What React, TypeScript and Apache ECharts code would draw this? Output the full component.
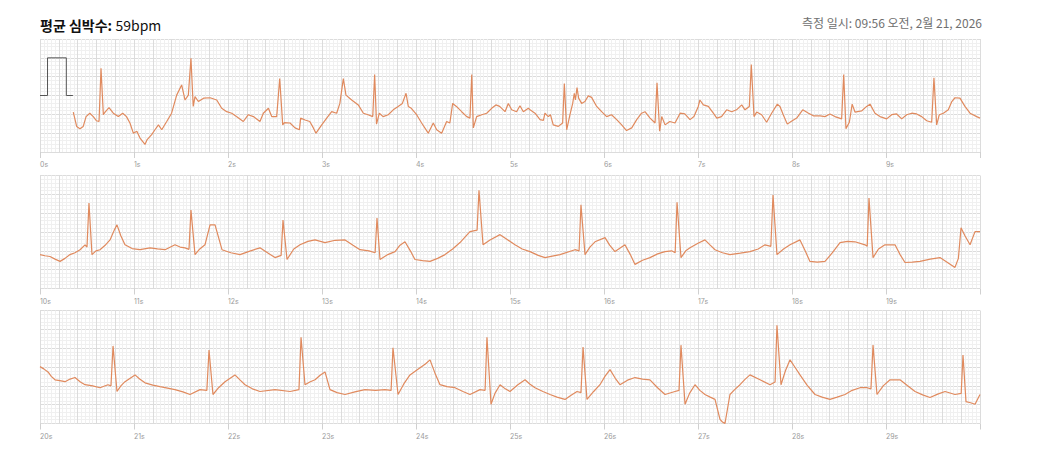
import React, { useEffect, useRef } from "react";
import * as echarts from "echarts";

const HEADER_LEFT_BOLD = "평균 심박수:";
const HEADER_LEFT_VALUE = "59bpm";
const HEADER_RIGHT = "측정 일시: 09:56 오전, 2월 21, 2026";

const stripStarts = [0, 10, 20];

const calibration: [number, number][] = [
  [0, 0], [0.08, 0], [0.08, 1], [0.28, 1], [0.28, 0], [0.35, 0],
];

const strip1: [number, number][] = [
  [0.354,-0.44],[0.39,-0.82],[0.425,-0.88],[0.46,-0.82],[0.49,-0.56],[0.53,-0.47],[0.567,-0.56],[0.60,-0.67],[0.628,-0.69],[0.649,0.72],[0.674,-0.51],[0.69,-0.45],[0.734,-0.32],[0.78,-0.47],[0.833,-0.56],[0.88,-0.47],[0.92,-0.56],[0.957,-0.73],[0.993,-1.0],[1.03,-0.95],[1.064,-1.13],[1.117,-1.30],[1.14,-1.17],[1.188,-1.04],[1.223,-0.91],[1.26,-0.78],[1.295,-0.91],[1.348,-0.69],[1.40,-0.47],[1.454,0.01],[1.507,0.28],[1.543,-0.12],[1.578,0.01],[1.606,0.99],[1.63,-0.29],[1.649,-0.03],[1.685,-0.16],[1.74,-0.07],[1.81,-0.06],[1.88,-0.12],[1.933,-0.34],[1.986,-0.43],[2.04,-0.47],[2.09,-0.56],[2.163,-0.69],[2.216,-0.51],[2.27,-0.56],[2.34,-0.69],[2.376,-0.47],[2.43,-0.34],[2.465,-0.56],[2.518,-0.56],[2.55,0.45],[2.582,-0.78],[2.6,-0.72],[2.66,-0.73],[2.713,-0.86],[2.76,-0.91],[2.773,-0.6],[2.82,-0.65],[2.87,-0.69],[2.908,-0.86],[2.936,-1.0],[2.997,-0.78],[3.05,-0.6],[3.103,-0.43],[3.156,-0.47],[3.19,-0.21],[3.227,0.45],[3.255,0.01],[3.316,-0.12],[3.386,-0.25],[3.44,-0.47],[3.49,-0.51],[3.54,-0.56],[3.56,0.56],[3.58,-0.76],[3.61,-0.47],[3.65,-0.56],[3.705,-0.51],[3.758,-0.38],[3.81,-0.29],[3.855,-0.21],[3.894,0.06],[3.918,-0.29],[3.95,-0.34],[4.007,-0.51],[4.06,-0.73],[4.13,-1.0],[4.184,-0.73],[4.22,-0.91],[4.273,-1.0],[4.326,-0.69],[4.36,-0.73],[4.39,-0.21],[4.43,-0.29],[4.486,-0.43],[4.54,-0.56],[4.574,-0.6],[4.593,0.56],[4.61,-0.86],[4.645,-0.56],[4.7,-0.51],[4.752,-0.47],[4.805,-0.34],[4.85,-0.25],[4.89,-0.29],[4.947,-0.43],[4.982,-0.21],[5.018,-0.38],[5.07,-0.43],[5.106,-0.27],[5.142,-0.43],[5.195,-0.34],[5.213,-0.38],[5.266,-0.47],[5.32,-0.64],[5.355,-0.66],[5.372,-0.47],[5.408,-0.56],[5.43,-0.51],[5.46,-0.78],[5.514,-0.82],[5.56,-0.73],[5.578,0.32],[5.603,-0.91],[5.638,-0.51],[5.667,-0.21],[5.684,0.06],[5.696,-0.12],[5.713,0.21],[5.73,-0.07],[5.762,-0.21],[5.797,-0.16],[5.833,-0.01],[5.868,-0.05],[5.922,-0.29],[5.975,-0.43],[6.028,-0.56],[6.08,-0.51],[6.135,-0.64],[6.188,-0.78],[6.24,-0.93],[6.295,-0.86],[6.348,-0.64],[6.40,-0.47],[6.436,-0.43],[6.49,-0.6],[6.543,-0.73],[6.564,0.34],[6.592,-0.95],[6.614,-0.56],[6.65,-0.78],[6.7,-0.69],[6.755,-0.73],[6.81,-0.47],[6.86,-0.49],[6.915,-0.64],[6.957,-0.56],[7.003,-0.29],[7.02,-0.12],[7.057,-0.25],[7.11,-0.29],[7.163,-0.47],[7.2,-0.6],[7.25,-0.56],[7.305,-0.38],[7.358,-0.43],[7.41,-0.38],[7.465,-0.25],[7.5,-0.38],[7.546,-0.29],[7.567,0.82],[7.596,-0.56],[7.624,-0.44],[7.677,-0.51],[7.73,-0.71],[7.783,-0.47],[7.844,-0.23],[7.872,-0.29],[7.907,-0.51],[7.95,-0.76],[7.99,-0.69],[8.05,-0.6],[8.114,-0.38],[8.176,-0.47],[8.227,-0.54],[8.3,-0.54],[8.35,-0.56],[8.404,-0.49],[8.457,-0.56],[8.528,-0.62],[8.55,0.56],[8.574,-0.88],[8.61,-0.71],[8.64,-0.23],[8.67,-0.44],[8.74,-0.41],[8.794,-0.29],[8.83,-0.23],[8.883,-0.47],[8.936,-0.56],[9.007,-0.62],[9.06,-0.51],[9.113,-0.49],[9.167,-0.62],[9.22,-0.51],[9.273,-0.47],[9.326,-0.49],[9.38,-0.56],[9.433,-0.67],[9.486,-0.71],[9.51,0.47],[9.539,-0.78],[9.567,-0.51],[9.61,-0.47],[9.663,-0.38],[9.7,-0.16],[9.734,-0.06],[9.787,-0.07],[9.84,-0.29],[9.894,-0.47],[9.965,-0.56],[10.0,-0.6],
];

const strip2: [number, number][] = [
  [10.0,-0.60],[10.053,-0.63],[10.106,-0.65],[10.16,-0.72],[10.213,-0.78],[10.266,-0.70],[10.319,-0.60],[10.372,-0.55],[10.426,-0.47],[10.479,-0.34],[10.5,-0.40],[10.521,0.77],[10.553,-0.60],[10.595,-0.50],[10.638,-0.47],[10.69,-0.36],[10.745,-0.21],[10.79,0.05],[10.819,0.19],[10.86,-0.10],[10.904,-0.34],[10.98,-0.44],[11.064,-0.47],[11.17,-0.42],[11.25,-0.45],[11.33,-0.47],[11.436,-0.34],[11.49,-0.40],[11.543,-0.42],[11.585,-0.46],[11.606,0.58],[11.649,-0.60],[11.7,-0.45],[11.755,-0.34],[11.809,0.19],[11.862,0.19],[11.936,-0.47],[12.03,-0.55],[12.128,-0.60],[12.24,-0.50],[12.34,-0.42],[12.42,-0.55],[12.5,-0.68],[12.565,-0.62],[12.585,0.32],[12.628,-0.73],[12.7,-0.45],[12.766,-0.34],[12.85,-0.25],[12.926,-0.21],[13.032,-0.28],[13.14,-0.22],[13.245,-0.21],[13.33,-0.35],[13.404,-0.47],[13.5,-0.50],[13.565,-0.55],[13.585,0.37],[13.617,-0.73],[13.7,-0.60],[13.777,-0.52],[13.83,-0.35],[13.883,-0.26],[13.94,-0.50],[13.989,-0.73],[14.07,-0.76],[14.149,-0.78],[14.23,-0.70],[14.309,-0.60],[14.39,-0.45],[14.468,-0.28],[14.574,0.01],[14.65,0.05],[14.67,1.11],[14.713,-0.34],[14.787,-0.21],[14.894,-0.07],[14.97,-0.20],[15.053,-0.34],[15.13,-0.45],[15.213,-0.52],[15.3,-0.62],[15.372,-0.68],[15.45,-0.64],[15.532,-0.60],[15.691,-0.47],[15.735,-0.50],[15.755,0.72],[15.798,-0.60],[15.85,-0.40],[15.904,-0.26],[16.011,-0.15],[16.06,-0.35],[16.117,-0.52],[16.223,-0.34],[16.28,-0.60],[16.33,-0.86],[16.41,-0.75],[16.489,-0.68],[16.57,-0.58],[16.649,-0.52],[16.72,-0.50],[16.757,-0.55],[16.777,0.79],[16.819,-0.68],[16.87,-0.50],[16.915,-0.42],[17.0,-0.30],[17.074,-0.21],[17.13,-0.35],[17.181,-0.47],[17.26,-0.55],[17.34,-0.60],[17.45,-0.56],[17.553,-0.52],[17.64,-0.45],[17.713,-0.34],[17.775,-0.38],[17.798,0.98],[17.84,-0.60],[17.91,-0.45],[17.979,-0.34],[18.085,-0.21],[18.14,-0.50],[18.191,-0.78],[18.27,-0.80],[18.351,-0.78],[18.43,-0.55],[18.511,-0.28],[18.59,-0.25],[18.67,-0.26],[18.777,-0.34],[18.8,-0.38],[18.819,0.90],[18.862,-0.68],[18.92,-0.45],[18.989,-0.34],[19.096,-0.34],[19.15,-0.60],[19.202,-0.81],[19.28,-0.80],[19.362,-0.78],[19.47,-0.72],[19.574,-0.68],[19.65,-0.80],[19.734,-0.94],[19.77,-0.70],[19.798,0.11],[19.84,-0.10],[19.894,-0.34],[19.947,0.01],[20.0,0.01],
];

const strip3: [number, number][] = [
  [20.0,0.01],[20.04,-0.05],[20.085,-0.13],[20.12,-0.25],[20.16,-0.34],[20.21,-0.36],[20.266,-0.39],[20.32,-0.32],[20.372,-0.28],[20.43,-0.40],[20.479,-0.47],[20.56,-0.50],[20.638,-0.55],[20.723,-0.47],[20.755,-0.50],[20.777,0.56],[20.819,-0.65],[20.86,-0.50],[20.904,-0.39],[21.011,-0.21],[21.06,-0.32],[21.117,-0.42],[21.2,-0.48],[21.277,-0.52],[21.436,-0.60],[21.52,-0.66],[21.596,-0.73],[21.702,-0.60],[21.775,-0.62],[21.798,0.45],[21.84,-0.73],[21.9,-0.55],[21.968,-0.39],[22.074,-0.21],[22.13,-0.35],[22.181,-0.47],[22.26,-0.58],[22.34,-0.65],[22.5,-0.60],[22.66,-0.65],[22.755,-0.60],[22.777,0.79],[22.819,-0.47],[22.87,-0.40],[22.926,-0.34],[22.98,-0.22],[23.032,-0.13],[23.085,-0.60],[23.16,-0.68],[23.245,-0.73],[23.35,-0.66],[23.457,-0.60],[23.57,-0.62],[23.67,-0.60],[23.735,-0.62],[23.755,0.51],[23.809,-0.73],[23.87,-0.45],[23.936,-0.21],[24.043,-0.02],[24.1,0.08],[24.149,0.19],[24.2,-0.15],[24.255,-0.47],[24.33,-0.52],[24.415,-0.55],[24.5,-0.65],[24.574,-0.73],[24.681,-0.60],[24.735,-0.62],[24.755,0.79],[24.798,-0.99],[24.84,-0.70],[24.894,-0.47],[24.95,-0.58],[25.0,-0.65],[25.08,-0.48],[25.16,-0.34],[25.21,-0.45],[25.266,-0.55],[25.35,-0.65],[25.426,-0.73],[25.5,-0.80],[25.585,-0.86],[25.65,-0.75],[25.713,-0.65],[25.755,-0.68],[25.777,0.53],[25.819,-0.86],[25.89,-0.65],[25.957,-0.47],[26.01,-0.25],[26.064,-0.07],[26.12,-0.30],[26.17,-0.47],[26.25,-0.35],[26.33,-0.28],[26.41,-0.32],[26.489,-0.34],[26.57,-0.55],[26.649,-0.73],[26.755,-0.65],[26.798,-0.62],[26.819,0.58],[26.862,-0.99],[26.91,-0.70],[26.968,-0.47],[27.02,-0.62],[27.074,-0.73],[27.13,-0.80],[27.181,-0.86],[27.234,-1.39],[27.26,-1.46],[27.287,-1.5],[27.34,-0.73],[27.39,-0.60],[27.447,-0.47],[27.5,-0.33],[27.553,-0.21],[27.66,-0.34],[27.766,-0.47],[27.82,-0.40],[27.84,1.11],[27.883,-0.47],[27.93,-0.10],[27.979,0.19],[28.03,0.0],[28.085,-0.21],[28.16,-0.48],[28.245,-0.73],[28.32,-0.80],[28.404,-0.86],[28.48,-0.80],[28.564,-0.73],[28.64,-0.62],[28.723,-0.55],[28.8,-0.55],[28.84,-0.58],[28.862,0.58],[28.904,-0.73],[28.97,-0.50],[29.043,-0.34],[29.149,-0.34],[29.23,-0.50],[29.309,-0.65],[29.39,-0.74],[29.468,-0.81],[29.55,-0.72],[29.628,-0.65],[29.734,-0.73],[29.8,-0.70],[29.819,0.32],[29.851,-0.92],[29.9,-0.95],[29.947,-0.99],[30.0,-0.73],
];

const strips = [strip1, strip2, strip3];

const TRACE = "#e08a5e";
const MAJOR = "#dcdcdc";
const MINOR = "#f0f0f0";

export default function App() {
  const ref = useRef<HTMLDivElement>(null);
  useEffect(() => {
    if (!ref.current) return;
    const chart = echarts.init(ref.current, undefined, { renderer: "svg" });
    const tops = [39, 175.5, 310.5];
    const grids = tops.map((t) => ({ left: 40, top: t, width: 940, height: 113, containLabel: false }));
    const xAxes: any[] = [];
    const yAxes: any[] = [];
    const series: any[] = [];
    stripStarts.forEach((s, i) => {
      xAxes.push({
        type: "value", gridIndex: i, min: s, max: s + 10, interval: 0.2,
        axisLine: { show: false }, axisTick: { show: false }, axisLabel: { show: false },
        splitLine: { show: true, lineStyle: { color: MAJOR, width: 1 } },
        minorTick: { show: false, splitNumber: 5 },
        minorSplitLine: { show: true, lineStyle: { color: MINOR, width: 1 } },
      });
      xAxes.push({
        type: "value", gridIndex: i, min: s, max: s + 10, interval: 1, position: "bottom",
        axisLine: { show: false },
        axisTick: { show: true, length: 6, lineStyle: { color: "#d0d0d0" } },
        axisLabel: {
          show: true, fontSize: 7, color: "#9a9a9a", align: "left", margin: 9,
          fontFamily: "Inter",
          formatter: (v: number) => (Math.round(v) === s + 10 ? "" : Math.round(v) + "s"),
        },
        splitLine: { show: false },
      });
      yAxes.push({
        type: "value", gridIndex: i, min: -1.5, max: 1.5, interval: 0.5,
        axisLine: { show: false }, axisTick: { show: false }, axisLabel: { show: false },
        splitLine: { show: true, lineStyle: { color: MAJOR, width: 1 } },
        minorTick: { show: false, splitNumber: 5 },
        minorSplitLine: { show: true, lineStyle: { color: MINOR, width: 1 } },
      });
      series.push({
        type: "line", xAxisIndex: i * 2, yAxisIndex: i, data: strips[i],
        showSymbol: false, symbol: "none", silent: true,
        lineStyle: { color: TRACE, width: 1.2 }, z: 3,
      });
    });
    series.push({
      type: "line", xAxisIndex: 0, yAxisIndex: 0, data: calibration,
      showSymbol: false, symbol: "none", silent: true,
      lineStyle: { color: "#555555", width: 1 }, z: 3,
    });
    chart.setOption({
      animation: false,
      backgroundColor: "#ffffff",
      grid: grids,
      xAxis: xAxes,
      yAxis: yAxes,
      series,
      graphic: [
        {
          type: "text", left: 40, top: 18,
          style: {
            text: "{b|" + HEADER_LEFT_BOLD + "} {n|" + HEADER_LEFT_VALUE + "}",
            rich: {
              b: { fontSize: 14, fontWeight: "bold", fill: "#111", fontFamily: "Noto Sans CJK KR" },
              n: { fontSize: 14, fontWeight: "normal", fill: "#111", fontFamily: "Noto Sans CJK KR" },
            },
          },
        },
        {
          type: "text", right: 58, top: 16,
          style: { text: HEADER_RIGHT, fontSize: 12, fill: "#707070", fontFamily: "Noto Sans CJK KR" },
        },
      ],
    });
    return () => chart.dispose();
  }, []);
  return (
    <div
      ref={ref}
      style={{ position: "fixed", left: 0, top: 0, width: 1040, height: 457, background: "#fff" }}
    />
  );
}
